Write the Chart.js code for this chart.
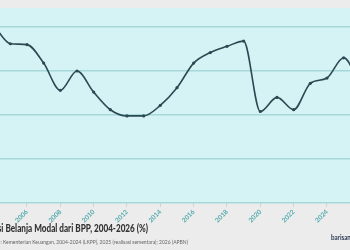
<!DOCTYPE html>
<html>
<head>
<meta charset="utf-8">
<script src="https://cdn.jsdelivr.net/npm/chart.js@4/dist/chart.umd.min.js"></script>
<style>
  html, body { margin: 0; padding: 0; background: #ececec; overflow: hidden; }
  #wrap { position: relative; width: 350px; height: 250px; overflow: hidden; }
  #chart { position: absolute; left: 0; top: 0; }
  .txt { position: absolute; white-space: nowrap; text-align: right; }
  #title { right: 202px; top: 221px; font: 900 11px "Lato", sans-serif; color: #333; line-height: 14px;
           transform: scaleX(0.74); transform-origin: right center; }
  #source { right: 162px; top: 238px; font: 5px "Lato", sans-serif; color: #666; line-height: 8px; }
  #logo { left: 331px; top: 233px; font: bold 7.5px "Lato", sans-serif; color: #2b3a55; line-height: 10px; text-align: left;
          transform: scaleX(0.82); transform-origin: left center; }
</style>
</head>
<body>
<div id="wrap">
  <canvas id="chart" width="350" height="250"></canvas>
  <div id="title" class="txt">Proporsi Belanja Modal dari BPP, 2004-2026 (%)</div>
  <div id="source" class="txt">Sumber: Kementerian Keuangan, 2004-2024 (LKPP), 2025 (realisasi sementara); 2026 (APBN)</div>
  <div id="logo" class="txt">barisan.co</div>
</div>
<script>
// data
var years = [2004, 2005, 2006, 2007, 2008, 2009, 2010, 2011, 2012, 2013, 2014, 2015,
             2016, 2017, 2018, 2019, 2020, 2021, 2022, 2023, 2024, 2025, 2026];
var share = [20.2, 18.1, 18.0, 15.9, 12.8, 15.0, 12.6, 10.6, 9.9, 9.9, 11.1, 13.1,
             15.9, 17.1, 17.8, 18.4, 10.4, 12.0, 10.6, 13.6, 14.2, 16.5, 13.4];
var tickYears = [2006, 2008, 2010, 2012, 2014, 2016, 2018, 2020, 2022, 2024];
var yTicks = [0, 5, 10, 15, 20];

var plotBg = {
    id: 'plotBg',
    beforeDraw: function (chart) {
        var a = chart.chartArea, ctx = chart.ctx;
        ctx.save();
        ctx.fillStyle = '#d5f3f5';
        ctx.fillRect(a.left, a.top, a.right - a.left, a.bottom - a.top);
        ctx.restore();
    }
};

var ctx = document.getElementById('chart').getContext('2d');
new Chart(ctx, {
    type: 'line',
    data: {
        datasets: [{
            label: 'Belanja Modal / BPP',
            data: years.map(function (y, i) { return { x: y, y: share[i] }; }),
            borderColor: '#2c4852',
            backgroundColor: '#2c4852',
            borderWidth: 1.6,
            cubicInterpolationMode: 'monotone',
            pointRadius: 1.6,
            pointBorderWidth: 0,
            fill: false
        }]
    },
    plugins: [plotBg],
    options: {
        responsive: false,
        animation: false,
        layout: { padding: { top: 8, left: 0, right: 0, bottom: 0 }, autoPadding: false },
        plugins: { legend: { display: false }, tooltip: { enabled: false } },
        scales: {
            x: {
                type: 'linear',
                min: 2004.38,
                max: 2025.38,
                afterBuildTicks: function (s) { s.ticks = tickYears.map(function (v) { return { value: v }; }); },
                afterFit: function (s) { s.height = 47; },
                grid: { drawOnChartArea: false, drawTicks: true, tickLength: 4, color: '#c9d6d6' },
                border: { display: false },
                ticks: {
                    minRotation: 45, maxRotation: 45, padding: 1,
                    color: '#4fa9ab',
                    font: { family: 'Lato', size: 6.5, weight: 'bold' },
                    callback: function (v) { return String(v); }
                }
            },
            y: {
                min: 0,
                max: 22.16,
                afterBuildTicks: function (s) { s.ticks = yTicks.map(function (v) { return { value: v }; }); },
                afterFit: function (s) { s.width = 0; },
                grid: { color: '#a6d8d9', lineWidth: 1.5, drawTicks: false },
                border: { display: false },
                ticks: { display: false }
            }
        }
    }
});
</script>
</body>
</html>
